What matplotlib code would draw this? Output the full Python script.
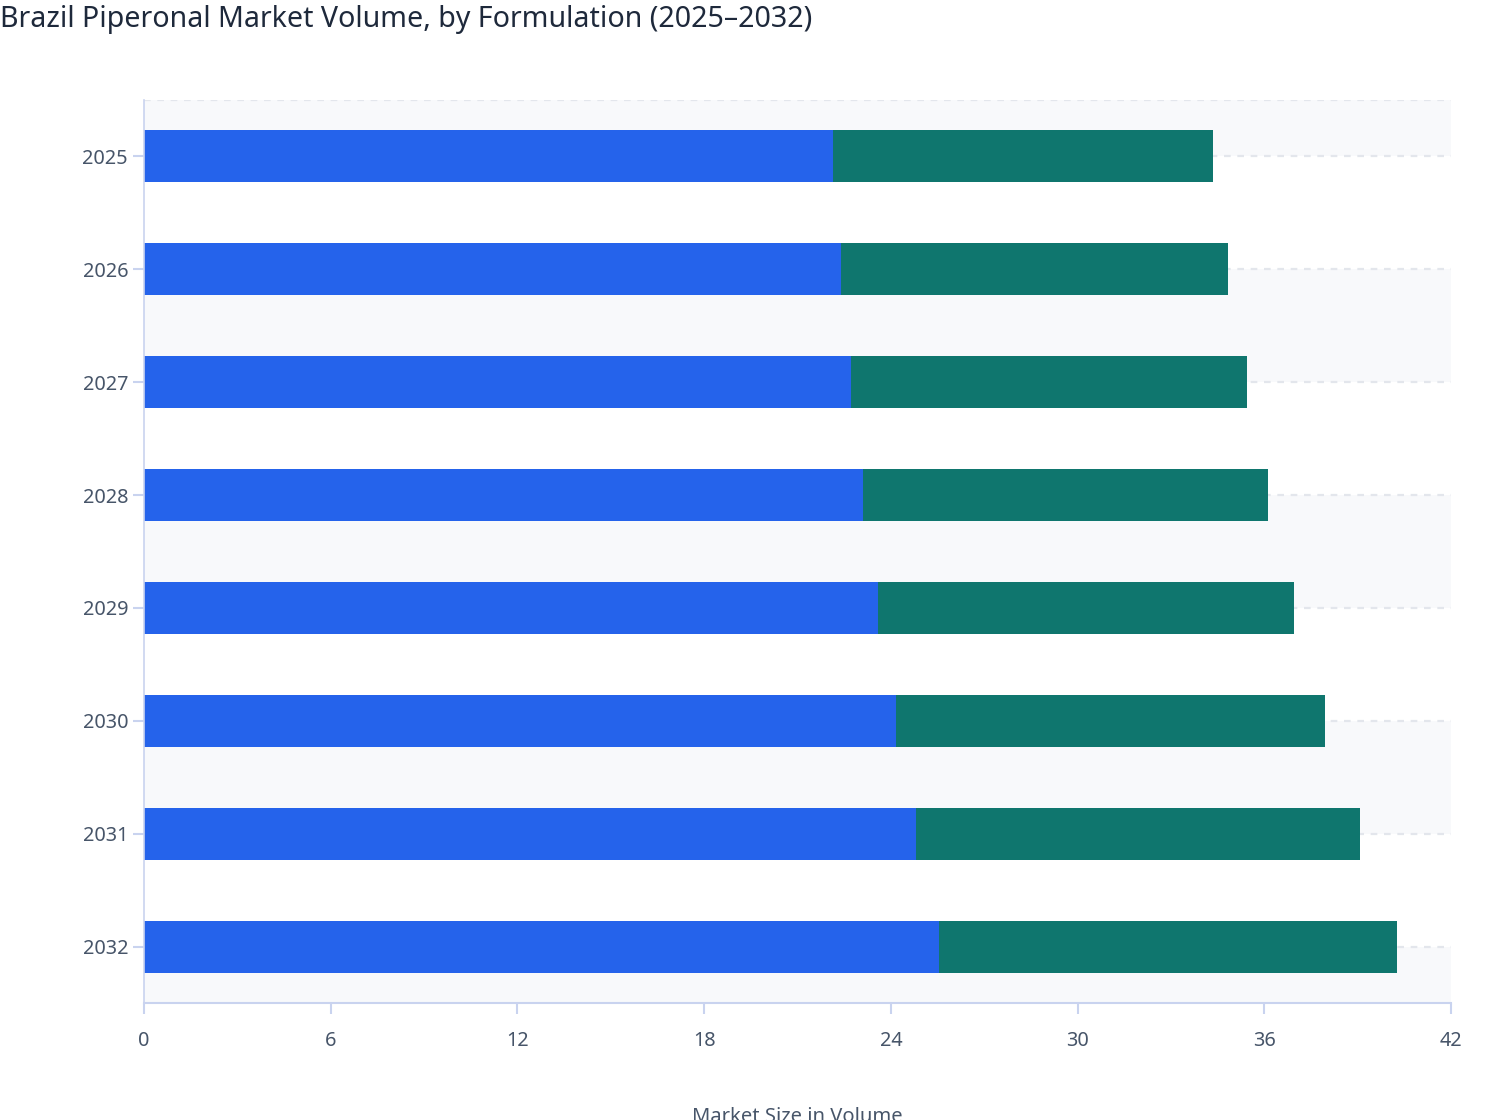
import matplotlib
matplotlib.use("Agg")
import matplotlib.pyplot as plt
import numpy as np

plt.rcParams['font.family'] = ['Noto Sans', 'DejaVu Sans']

years = ["2025", "2026", "2027", "2028", "2029", "2030", "2031", "2032"]
series_a = [22.14, 22.40, 22.72, 23.10, 23.58, 24.16, 24.82, 25.56]
series_b = [12.21, 12.45, 12.71, 13.01, 13.39, 13.78, 14.25, 14.72]
x_ticks = [0, 6, 12, 18, 24, 30, 36, 42]

title = "Brazil Piperonal Market Volume, by Formulation (2025\u20132032)"
x_label = "Market Size in Volume"

color_a = "#2563eb"
color_b = "#0f766e"
band_color = "#f8f9fb"
grid_color = "#e3e6ec"
axis_color = "#c9d3ef"
tick_text = "#475569"
title_color = "#1e293b"

W, H = 1508, 1120
fig = plt.figure(figsize=(W / 100, H / 100), dpi=100)
ax = fig.add_axes([144 / W, 1 - 1003 / H, (1451 - 144) / W, (1003 - 100) / H])

n = len(years)
pos = np.arange(n)
ax.set_ylim(n - 0.5, -0.5)
ax.set_xlim(0, 42)

# alternating bands between category centers
edges = [-0.5] + list(pos) + [n - 0.5]
for i in range(len(edges) - 1):
    if i % 2 == 0:
        ax.axhspan(edges[i], edges[i + 1], color=band_color, zorder=0, lw=0)

# dashed gridlines at top edge and category centers
for yv in [-0.5] + list(pos):
    ax.axhline(yv, color=grid_color, lw=1.6, ls=(0, (3, 3)), zorder=1)

ax.barh(pos, series_a, height=0.46, color=color_a, zorder=2, lw=0)
ax.barh(pos, series_b, left=series_a, height=0.46, color=color_b, zorder=2, lw=0)

ax.set_yticks(pos)
ax.set_yticklabels(years)
ax.set_xticks(x_ticks)
ax.set_xticklabels([str(t) for t in x_ticks])

for s in ["top", "right"]:
    ax.spines[s].set_visible(False)
for s in ["left", "bottom"]:
    ax.spines[s].set_color(axis_color)
    ax.spines[s].set_linewidth(1.5)
ax.spines["left"].set_linewidth(1.2)

ax.tick_params(axis="x", colors=axis_color, length=8, width=1.5, pad=12,
               labelcolor=tick_text, labelsize=14.3)
ax.tick_params(axis="y", colors=axis_color, length=8, width=1.5, pad=3.5,
               labelcolor=tick_text, labelsize=14.3)

fig.text(0.0, 1 - 19 / H, title, fontsize=20.6, color=title_color,
         ha="left", va="center", fontweight="medium")
fig.text((144 + 1451) / 2 / W, 1 - 1122 / H, x_label, fontsize=14.5,
         color=tick_text, ha="center", va="baseline")

fig.savefig("out.png", dpi=100, facecolor="white")
